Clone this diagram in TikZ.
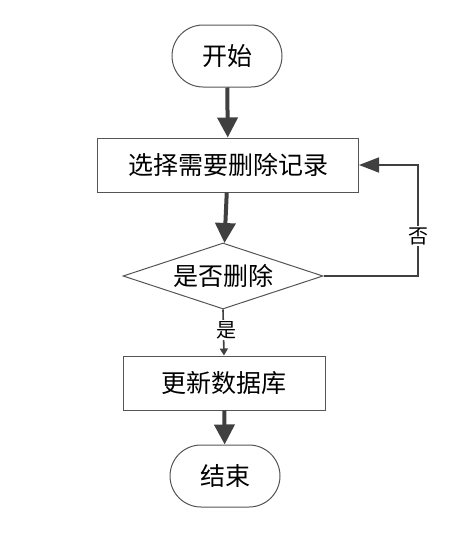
\documentclass[tikz,border=0pt]{standalone}
\usepackage{fontspec}
\newfontfamily\cjk{Noto Sans CJK SC}[Scale=1]
\usepackage{tikz}
\usetikzlibrary{positioning, shapes.geometric, arrows.meta}
\usepackage{xcolor}
\definecolor{lineGray}{HTML}{404040}
\definecolor{borderGray}{HTML}{555555}

\tikzset{
  terminal/.style={draw=borderGray, line width=1pt, rounded corners=31pt, fill=white,
                   minimum width=110pt, minimum height=62pt, inner sep=0pt,
                   font=\cjk\fontsize{25}{28}\selectfont},
  process/.style={draw=borderGray, line width=1pt, fill=white, inner sep=0pt,
                  minimum height=54pt, font=\cjk\fontsize{25}{28}\selectfont},
  decision/.style={diamond, aspect=3.03, draw=borderGray, line width=1pt, fill=white, inner sep=0pt,
                   minimum width=200pt, minimum height=66pt, font=\cjk\fontsize{25}{28}\selectfont},
  flow/.style={draw=lineGray, line width=4pt, -{Triangle[length=20pt,width=20pt]}},
  loopback/.style={draw=lineGray, line width=1.6pt, -{Triangle[length=20pt,width=15pt]}},
  thinflow/.style={draw=lineGray, line width=1.6pt, -{Triangle[length=7pt,width=8pt]}},
  tag/.style={fill=white, inner sep=1pt, font=\cjk\fontsize{20}{24}\selectfont}
}

\begin{document}
\begin{tikzpicture}[x=1pt, y=-1pt]
  \useasboundingbox (0,0) rectangle (472,533);

  % nodes
  \node[terminal] (start) at (227,56) {开始};
  \node[process, minimum width=261pt] (choose) at (228,165) {选择需要删除记录};
  \node[decision] (ask) at (223,276) {是否删除};
  \node[process, minimum width=202pt] (update) at (224,383) {更新数据库};
  \node[terminal] (stop) at (225,476) {结束};

  % connectors
  \draw[flow] (start) -- (choose);
  \draw[flow] (choose) -- (ask);
  \coordinate (turn1) at (418,276);
  \coordinate (turn2) at (418,165);
  \draw[loopback] (ask.east) -- (turn1) -- (turn2) -- (choose.east);
  \node[tag] (no) at (418,236) {否};
  \draw[thinflow] (ask.south) -- (update.north);
  \node[tag] (yes) at (226,330) {是};
  \draw[flow] (update) -- (stop);
\end{tikzpicture}
\end{document}
